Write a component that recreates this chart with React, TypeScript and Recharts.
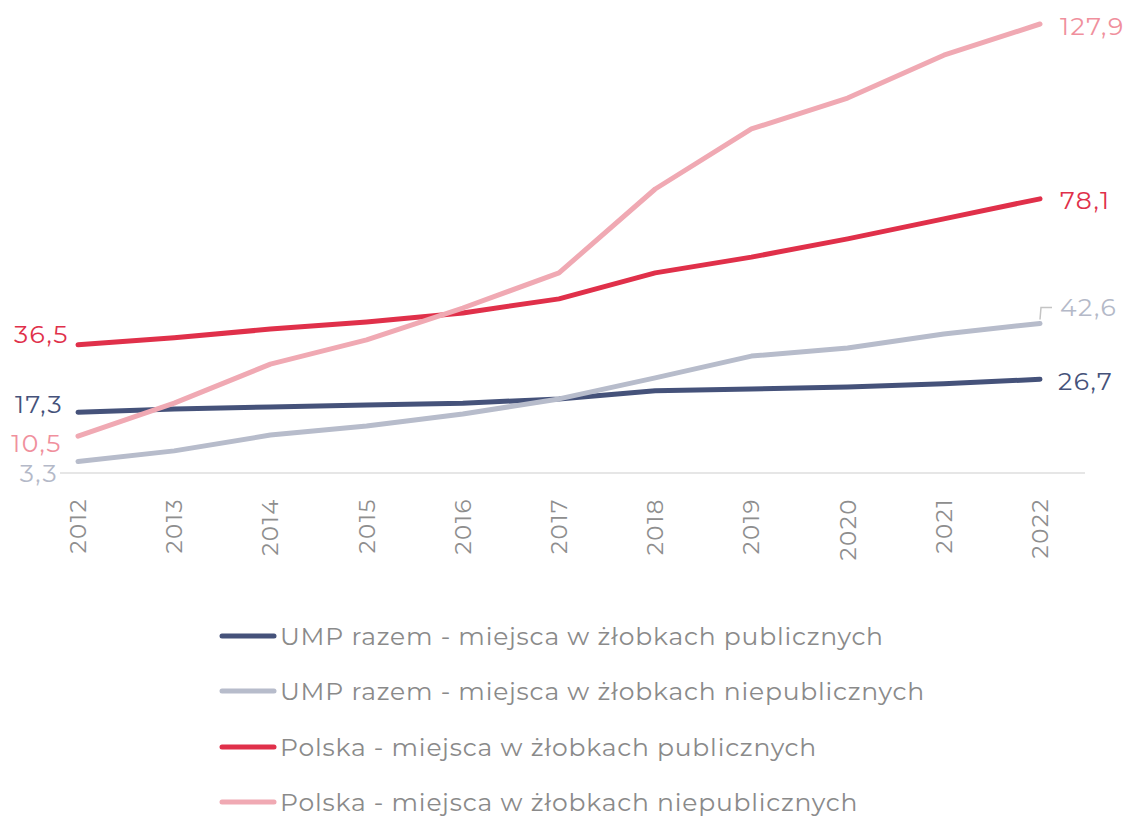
import React from 'react';
import { LineChart, Line, XAxis, YAxis, LabelList, Legend } from 'recharts';

const years = ['2012', '2013', '2014', '2015', '2016', '2017', '2018', '2019', '2020', '2021', '2022'];
const umpPublic = [17.3, 18.2, 18.8, 19.4, 19.9, 21.1, 23.4, 23.9, 24.5, 25.4, 26.7];
const umpNonPublic = [3.3, 6.3, 10.8, 13.4, 16.8, 21.1, 27.1, 33.3, 35.6, 39.6, 42.6];
const plPublic = [36.5, 38.5, 41.0, 43.0, 45.6, 49.6, 57.0, 61.5, 66.7, 72.4, 78.1];
const plNonPublic = [10.5, 19.9, 31.0, 37.9, 47.0, 57.0, 80.9, 98.0, 106.8, 119.0, 127.9];

const seriesNames = [
  'UMP razem - miejsca w żłobkach publicznych',
  'UMP razem - miejsca w żłobkach niepublicznych',
  'Polska - miejsca w żłobkach publicznych',
  'Polska - miejsca w żłobkach niepublicznych',
];

const data = years.map((y, i) => ({
  year: y,
  s0: umpPublic[i],
  s1: umpNonPublic[i],
  s2: plPublic[i],
  s3: plNonPublic[i],
}));

const FONT = "Montserrat, 'Open Sans', sans-serif";

const series = [
  { key: 's0', name: seriesNames[0], color: '#45527a', labelColor: '#45527a', first: { dx: -15, dy: -8 }, last: { dx: 18, dy: 2 }, leader: false },
  { key: 's1', name: seriesNames[1], color: '#b7bccb', labelColor: '#b4b9c8', first: { dx: -20, dy: 12 }, last: { dx: 20, dy: -16 }, leader: true },
  { key: 's2', name: seriesNames[2], color: '#e0304a', labelColor: '#e0304a', first: { dx: -9, dy: -11 }, last: { dx: 20, dy: 1 }, leader: false },
  { key: 's3', name: seriesNames[3], color: '#f0a9b3', labelColor: '#f0909d', first: { dx: -16, dy: 7 }, last: { dx: 20, dy: 2 }, leader: false },
];

const fmt = (v: number) => v.toFixed(1).replace('.', ',');

const makeLabel = (s: typeof series[number]) => (props: any) => {
  const { x, y, index, value } = props;
  const last = years.length - 1;
  if (index !== 0 && index !== last) return null;
  const o = index === 0 ? s.first : s.last;
  return (
    <g>
      {index === last && s.leader ? (
        <polyline
          points={`${x},${y - 4} ${x + 1},${y + o.dy} ${x + 12},${y + o.dy}`}
          fill="none"
          stroke="#c4c4c4"
          strokeWidth={1.5}
        />
      ) : null}
      <text
        x={x + o.dx}
        y={y + o.dy}
        textAnchor={index === 0 ? 'end' : 'start'}
        dominantBaseline="central"
        fill={s.labelColor}
        fontSize={25}
        letterSpacing={1.5}
        fontFamily={FONT}
      >
        {fmt(value)}
      </text>
    </g>
  );
};

const YearTick = (props: any) => {
  const { x, y, payload } = props;
  return (
    <text
      x={x}
      y={y + 17}
      transform={`rotate(-90, ${x}, ${y + 17})`}
      textAnchor="end"
      dominantBaseline="central"
      fill="#8e8e8e"
      fontSize={23}
      letterSpacing={1.5}
      fontFamily={FONT}
    >
      {payload.value}
    </text>
  );
};

const LegendContent = () => (
  <div style={{ fontFamily: FONT }}>
    {series.map((s) => (
      <div key={s.key} style={{ display: 'flex', alignItems: 'center', height: 55.5 }}>
        <svg width={61} height={10} style={{ display: 'block' }}>
          <line x1={3} y1={5} x2={55} y2={5} stroke={s.color} strokeWidth={5} strokeLinecap="round" />
        </svg>
        <span style={{ color: '#8a8a8a', fontSize: 25, letterSpacing: 0.8, whiteSpace: 'nowrap' }}>{s.name}</span>
      </div>
    ))}
  </div>
);

export default function App() {
  return (
    <div style={{ position: 'absolute', left: 0, top: 0, width: 1125, height: 816, background: '#fff', overflow: 'hidden' }}>
      <LineChart width={1125} height={816} data={data} margin={{ top: 24, right: 40, left: 60, bottom: 253 }}>
        <XAxis
          dataKey="year"
          axisLine={{ stroke: '#dedede', strokeWidth: 1.5 }}
          tickLine={false}
          tick={<YearTick />}
          interval={0}
          height={90}
          padding={{ left: 18, right: 45 }}
        />
        <YAxis hide domain={[0, 127.9]} />
        <Legend
          layout="vertical"
          align="center"
          verticalAlign="middle"
          content={<LegendContent />}
          wrapperStyle={{ position: 'absolute', left: 219, top: 608, width: 900 }}
        />
        {series.map((s) => (
          <Line
            key={s.key}
            dataKey={s.key}
            name={s.name}
            stroke={s.color}
            strokeWidth={5}
            dot={false}
            activeDot={false}
            strokeLinecap="round"
            strokeLinejoin="round"
            isAnimationActive={false}
          >
            <LabelList dataKey={s.key} content={makeLabel(s)} />
          </Line>
        ))}
      </LineChart>
    </div>
  );
}
